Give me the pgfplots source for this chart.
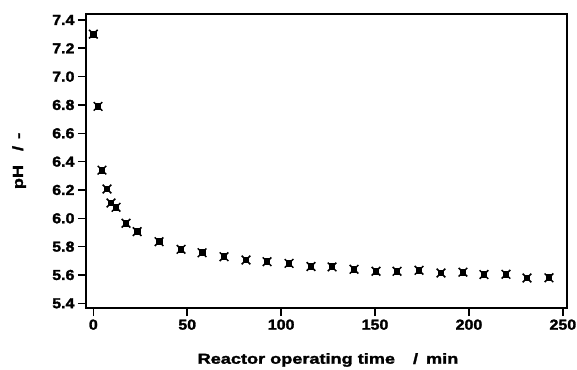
\documentclass[border=0pt]{standalone}
\usepackage{fontspec}
\setmainfont{Liberation Sans}
\newfontfamily\tickfont[FakeStretch=1.1, FakeBold=1.8]{Liberation Sans}
\newfontfamily\labfont[FakeStretch=1.25, FakeBold=1.8]{Liberation Sans}
\usepackage{pgfplots}
\pgfplotsset{compat=1.18}
\pgfdeclareplotmark{blob}{%
  \pgfpathrectangle{\pgfpoint{-0.8\pgfplotmarksize}{-0.8\pgfplotmarksize}}{\pgfpoint{1.6\pgfplotmarksize}{1.6\pgfplotmarksize}}%
  \pgfusepathqfill
  \pgfpathmoveto{\pgfpoint{-\pgfplotmarksize}{-\pgfplotmarksize}}%
  \pgfpathlineto{\pgfpoint{\pgfplotmarksize}{\pgfplotmarksize}}%
  \pgfpathmoveto{\pgfpoint{-\pgfplotmarksize}{\pgfplotmarksize}}%
  \pgfpathlineto{\pgfpoint{\pgfplotmarksize}{-\pgfplotmarksize}}%
  \pgfusepathqstroke
}
\begin{document}
\begin{tikzpicture}
\useasboundingbox (-86pt,-61pt) rectangle (491pt,308pt);
\begin{axis}[
  scale only axis, width=481pt, height=294pt,
  xmin=-3.9, xmax=252.2, ymin=5.367, ymax=7.442,
  axis line style={line width=1.6pt},
  tick style={line width=1.6pt, black},
  major tick length=8pt,
  tick align=outside,
  xtick pos=bottom, ytick pos=left,
  xtick={0,50,100,150,200,250},
  ytick={5.4,5.6,5.8,6.0,6.2,6.4,6.6,6.8,7.0,7.2,7.4},
  yticklabel style={/pgf/number format/fixed, /pgf/number format/precision=1, /pgf/number format/fixed zerofill},
  /pgf/number format/assume math mode=true,
  ticklabel style={font=\tickfont\bfseries\fontsize{14.5}{16}\selectfont},
  xlabel={Reactor operating time\hspace{18pt}/\hspace{8pt}min},
  ylabel={pH\hspace{14pt}/\hspace{7pt}-},
  label style={font=\labfont\bfseries\fontsize{14.5}{16}\selectfont},
  xlabel style={at={(axis description cs:0.5,0)}, anchor=center, yshift=-52pt, xshift=1.5pt},
  ylabel style={at={(axis description cs:-0.139,0.5)}, anchor=center},
  clip=false,
]
\addplot[only marks, mark=blob, mark size=4.3pt, line width=1.5pt, black] coordinates {
(0,7.30) (2.5,6.79) (4.6,6.34) (7.3,6.207) (9.4,6.108) (12.1,6.078)
(17.4,5.965) (23.3,5.906) (35,5.835) (46.7,5.781) (57.9,5.757) (69.6,5.729)
(81.3,5.706) (92.5,5.694) (104.2,5.682) (115.9,5.66) (127.1,5.657) (138.8,5.64)
(150.5,5.626) (161.7,5.626) (173.4,5.633) (185.1,5.614) (196.8,5.62) (208,5.603)
(219.7,5.605) (230.9,5.579) (242.6,5.58)
};
\end{axis}
\end{tikzpicture}
\end{document}
